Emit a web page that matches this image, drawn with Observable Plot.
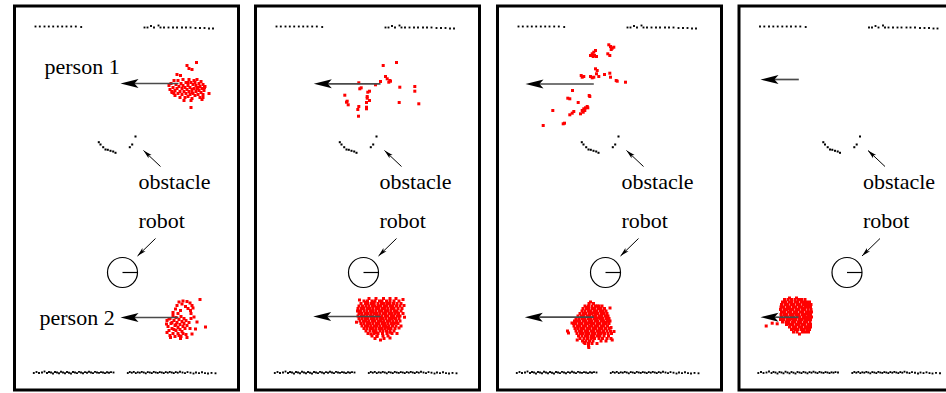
<!DOCTYPE html>
<html><head><meta charset="utf-8">
<script src="https://cdn.jsdelivr.net/npm/d3@7"></script>
<script src="https://cdn.jsdelivr.net/npm/@observablehq/plot@0.6"></script>
<style>body{margin:0;background:#fff}#chart svg{display:block}</style>
</head><body><div id="chart"></div>
<script>
// ---- layout of the four snapshots (left border of each frame) ----
const panels = [0, 1, 2, 3];
const panelLeft = [14.5, 255.5, 497.5, 739];
const panelWidth = 224;
const panelTop = 6, panelBottom = 390;

// ---- static scene (panel-local x, y) ----
const topWall = [[20.5,26],[24.8,26],[29.5,26],[33.8,26],[38.2,26],[42.8,26],[47.2,26],[51.5,26],[56.2,26],[60.8,26],[66.2,26.5],
  [129.5,27],[132.5,27],[136,25.5],[139,27],[143.5,25],[145.5,27],[149,27],[153.5,27],[158,27],[162,27],[167,27],[171,27],[175.5,27],[180.5,27.5],[185,27.5],[189.5,27.5],[194,28],[198,28]];
const bottomWall = [[18.8,372.5],[21.5,371.5],[24,372.5],[27,372],[29.5,371],[32,372.5],[34,371.5],[36,372],[38,373],[40,371.5],[42,372],[44,372.8],[46,371.2],[48,372],[50,372.8],[52,371.5],[54,372.2],[56,373],[58,371.5],[60,372],[62,372.6],[64,371.4],[66,372],[68,372.8],[70,371.6],[72,372.2],[74,371.2],[76,372],[78,372.6],[80,371.4],[82,372],[84,372.4],[86,371.6],[88,372],[90,372.6],[92,371.8],[94,372.2],[96,371.6],[98.5,372],
  [112.8,372.5],[114.8,371.5],[116.8,372.2],[118.8,371.4],[120.8,372.6],[122.8,371.8],[124.8,372.2],[126.8,371.4],[128.8,372],[130.8,372.8],[132.8,371.6],[134.8,372],[136.8,372.6],[138.8,371.4],[140.8,372],[142.8,372.4],[144.8,371.6],[146.8,372],[148.8,372.6],[150.8,371.6],[152.8,372.2],[154.8,371.4],[156.8,372],[158.8,372.6],[160.8,371.6],[162.8,372.2],[165,371.2],[167.5,372],[170,372.6],[172.5,371.6],[175.5,372.2],[178.5,373],[181,372],[184,372.6],[187,371.8],[190,372.6],[193,373],[196.5,372.4],[200.5,372.8]];
const obstacle = [[83.8,141.7],[85.5,144],[88.2,146.7],[90.5,149],[92.8,149.3],[95.5,150.3],[98.2,151],[100.5,152.3],[114.8,146.7],[117.2,144],[120.5,136]];
const robot = {x: 107.5, y: 272, heading: 0};
const robotRadius = 15;

// ---- labels ----
const sceneLabels = [{text: "obstacle", x: 123.5, y: 188.5}, {text: "robot", x: 123.5, y: 227}];
const personLabels = [{panel: 0, text: "person 1", x: 29.5, y: 73}, {panel: 0, text: "person 2", x: 24.5, y: 324.5}];
const labelArrows = [{tx: 145.5, ty: 166, x: 128.5, y: 150}, {tx: 140.5, ty: 238, x: 122.5, y: 255.5}];

// ---- estimated person motion (tail -> tip) per snapshot ----
const personArrows = [
  {panel: 0, person: 1, tx: 163.5, x: 105.5, y: 83},
  {panel: 0, person: 2, tx: 163.5, x: 105.5, y: 317},
  {panel: 1, person: 1, tx: 124.5, x: 57.8, y: 83.3},
  {panel: 1, person: 2, tx: 124.5, x: 57.2, y: 316},
  {panel: 2, person: 1, tx: 95.8, x: 27.5, y: 83.5},
  {panel: 2, person: 2, tx: 95.8, x: 26.8, y: 316.7},
  {panel: 3, person: 1, tx: 59.3, x: 21, y: 79},
  {panel: 3, person: 2, tx: 59, x: 21, y: 316.7}
];

// ---- particles ----
const p0person1 = [[154,85],[155,89],[156,83],[157,92],[158,87],[159,80],[160,90],[160,95],[161,84],[162,88],[163,93],[163,80],[164,86],[165,91],[165,97],[166,83],[167,88],[167,94],[168,79],[168,85],[169,91],[170,87],[170,97],[171,82],[171,93],[172,89],[173,85],[173,96],[174,79],[174,91],[175,87],[175,94],[176,82],[177,89],[177,98],[178,84],[178,93],[179,80],[179,88],[180,95],[181,85],[181,91],[182,79],[182,88],[183,94],[184,83],[184,90],[185,86],[185,97],[186,81],[186,92],[187,88],[188,84],[188,94],[189,90],[190,86],[187,99],[176,100],[169,100],
  [172,65],[174,68],[177,69],[181.5,62],[176,107],[194,93],[162,74],[165.5,75],[157,91],[159,93],[189.5,87],[188,97],[180,82],[183,87],[177,92],[173,82]];
const p0person2 = [[162,305],[164,301.5],[168,300.5],[172,301],[175,302.5],[177,305],[178,307.5],[175.5,310],[170.5,306],[160.5,308.5],[165.5,310],[167,303.5],[173,308],
  [152,320],[153,326],[154,330],[155,318],[156,323],[157,328],[158,333],[158,315],[159,320],[160,325],[161,330],[161,317],[162,322],[163,327],[163,333],[164,319],[165,324],[165,329],[166,316],[167,321],[167,331],[168,326],[169,318],[169,323],[170,328],[171,320],[171,334],[172,325],[160,336],[155,335],[166,336],[174,322],[175,328],[176,318],
  [179,316.5],[182,321.5],[180.5,328.5],[177,333.5],[172,337],[165.5,338],[155.5,337],[152,332],[151.5,323.5],[154,318.5],[185,299],[190.5,326.5],[158,312],[163,313],[176,313],[157,322],[159,329],[164,335],[168,333],[161,324]];
const p1person1 = [[127.2,65],[140.5,62],[129.5,76],[131.2,78.3],[133.8,80],[132.8,81.7],[134.5,80.7],[124.5,81],[119.5,84.3],[102.8,82.3],[105.2,87.3],[103.8,88.3],[113.5,90.7],[111.8,91.7],[143.8,86.7],[158.8,86],[158.8,90.7],[88.8,94.7],[91.2,100.7],[90.5,101.7],[92.2,104.3],[111.2,96],[111.2,97.7],[113.5,100],[110.5,102],[102.8,106],[101.8,109],[110.5,106.7],[110.5,108.3],[102.5,115.7],[143.2,102],[162.8,103.3]];
const p2person1 = [[110.8,44.3],[112.5,46],[114.2,47.7],[115.8,46.7],[113.2,49],[111.8,55],[109.8,53.3],[94.2,53.3],[95.8,51.7],[97.5,50],[96.5,55],[92.5,55],[98.5,56],[95.2,56],[97.5,68.3],[99.2,70],[83.2,75],[84.2,76.7],[85.8,76],[92.5,76],[94.2,77.3],[95.8,76.7],[100.8,76],[98.5,73.3],[106.5,74],[111.8,72.7],[112.5,76.7],[118.2,80],[119.2,80.7],[127.5,81.7],[74.5,90],[69.8,97.7],[71.8,98.3],[91.2,95],[91.8,96],[80.2,102],[89.2,106],[87.5,107.3],[85.8,108.3],[84.2,110],[85.2,111.7],[82.5,113.3],[75.8,111],[74.2,112.7],[71.8,114.3],[54.8,110],[65.2,123.3],[66.5,122.7],[45.2,125],[89.8,107.3],[86.8,110]];
// dense clouds, given as rows [y, [x ...]] plus scattered extra particles
const p1person2 = [
  [298,[113,120,127.5,134,140]],
  [300.5,[108,111.5,116,119,123.5,126,130.5,134,138,143]],
  [303,[105,109.5,112,115.5,118,122,125.5,128,131.5,134,137.5,141,145]],
  [305.5,[103,106.5,110,113,116.5,119,122.5,125,128.5,131,134.5,137,140.5,144]],
  [308,[102,105.5,108,111.5,114,117,120.5,123,126.5,129,132,135.5,138,142,146]],
  [310.5,[101.5,104.5,108,111,114.5,117,120,123.5,126,129.5,132,135,138.5,141,145]],
  [313,[103,106,109.5,112,115,118.5,121,124,127.5,130,133.5,136,139,142.5,147]],
  [315.5,[102,105.5,108,111,114.5,117,120.5,123,126,129.5,132,135.5,138,141.5,144]],
  [318,[103,106,109.5,112,115.5,118,121,124.5,127,130,133.5,136,139.5,143]],
  [320.5,[104,107.5,110,113,116.5,119,122.5,125,128,131.5,134,137,140.5,144]],
  [323,[105,108,111.5,114,117,120.5,123,126.5,129,132,135.5,138,142]],
  [325.5,[106,109.5,112,115,118.5,121,124,127.5,130,133,136.5,140,145]],
  [328,[108,111,114.5,117,120,123.5,126,129,132.5,135,139]],
  [330.5,[110,114,117.5,120,124,127,130.5,134,138]],
  [333,[112,118,122,126.5,131,136,141]],
  [335.5,[116,121,127,132]],
  [338,[119,128]]];
const p1person2extra = [[110,302],[118,301.8],[131,302.5],[107,307],[121,306.8],[136,307.2],[104,312],[116,311.7],[129,312.3],[141,311.8],[109,317],[124,316.8],[137,317.2],[112,322],[127,321.8],[140,322.3],[115,327],[131,326.8],[120,332],[134,331.8],[148,305],[143,327.5],[121,336],[124.5,339.5],[115,333.5],[103.5,299.5],[100.5,321.7],[134,337.5],[148.5,316.7],[147,299]];
const p2person2 = [
  [303,[91,95.5]],
  [305.5,[87,90.5,94,97.5,101,104]],
  [308,[85,88.5,91,94.5,97,100.5,103,106.5]],
  [310.5,[84,87,90.5,93,96.5,99,102.5,105,108]],
  [313,[82,85.5,88,91.5,94,97.5,100,103.5,106,109]],
  [315.5,[80,83.5,86,89.5,92,95.5,98,101.5,104,107.5,110]],
  [318,[78,81,84.5,87,90.5,93,96.5,99,102.5,105,108.5,111]],
  [320.5,[76.5,79.5,82,85.5,88,91.5,94,97.5,100,103.5,106,109.5,112]],
  [323,[75.5,78,81.5,84,87.5,90,93.5,96,99.5,102,105.5,108,111]],
  [325.5,[76,79.5,82,85.5,88,91.5,94,97.5,100,103.5,106,109.5]],
  [328,[77,80,83.5,86,89.5,92,95.5,98,101.5,104,107.5,111]],
  [330.5,[69.5,78,81.5,84,87.5,90,93.5,96,99.5,102,105.5,109,112.5]],
  [333,[79,82.5,85,88.5,91,94.5,97,100.5,103,106.5,110,113.5]],
  [335.5,[80.5,84,87.5,90,93.5,96,99.5,102,106,110.5]],
  [338,[82,86,89.5,93,96.5,101,104.5,109,113]],
  [340.5,[84.5,88,91.5,95,103,108]],
  [343,[87,90.5,94,99]],
  [345.5,[90.5]]];
const p2person2extra = [[70.5,332.5],[79.2,339.5],[90.8,347],[114.2,339.5],[112,307.5],[92.5,301.5],[99.2,305.5],[89,307],[96,312],[84,317],[101,317.2],[91,322],[80,327],[97,326.8],[88,332],[105,331.8],[94,337],[86,342],[108,322],[113,327],[116,331],[74,322.5]];
const p3person2 = [
  [299,[45,48.5,52,55.5,59,62,65.5]],
  [301.5,[43,46,49.5,52,55.5,58,61.5,64,67,70]],
  [304,[42,45.5,48,51.5,54,57.5,60,63.5,66,69,71.5]],
  [306.5,[41.5,44,47.5,50,53.5,56,59.5,62,65.5,68,71]],
  [309,[41,44.5,47,50.5,53,56.5,59,62.5,65,68.5,71.5]],
  [311.5,[42,45,48.5,51,54.5,57,60.5,63,66.5,69,72]],
  [314,[41.5,44.5,47,50.5,53,56.5,59,62.5,65,68.5,71]],
  [316.5,[42,45.5,48,51.5,54,57.5,60,63.5,66,69,72]],
  [319,[41,44,47.5,50,53.5,56,59.5,62,65.5,68,71]],
  [321.5,[43,46.5,49,52.5,55,58.5,61,64.5,67,70.5]],
  [324,[47,50.5,53,56.5,59,62.5,65,68.5,71]],
  [326.5,[50,53.5,56,59.5,62,65.5,68,71]],
  [329,[52,55.5,58,61.5,64,67.5,70]],
  [331.5,[54,57.5,63,66,69]]];
const p3person2extra = [[26.7,325.5],[32.7,322.7],[37.7,323.3],[46,303],[58,302.8],[50,308],[63,307.7],[45,313],[56,312.7],[67,313.2],[52,318],[64,317.8],[48,323],[60,322.6],[55,328],[66,327.7],[60,333.5],[50,297.5],[70,318],[57,297.5]];

// ---- build tables ----
const fromPairs = (panel, pts) => pts.map(([x, y]) => ({panel, x, y}));
const fromRows = (panel, rows) => rows.flatMap(([y, xs]) => xs.map(x => ({panel, x, y})));
const everyPanel = pts => panels.flatMap(p => fromPairs(p, pts));
const particles = [
  ...fromPairs(0, p0person1), ...fromPairs(0, p0person2),
  ...fromPairs(1, p1person1), ...fromRows(1, p1person2), ...fromPairs(1, p1person2extra),
  ...fromPairs(2, p2person1), ...fromRows(2, p2person2), ...fromPairs(2, p2person2extra),
  ...fromRows(3, p3person2), ...fromPairs(3, p3person2extra)
];
const walls = everyPanel([...topWall, ...bottomWall]);
const obstacles = everyPanel(obstacle);
const robots = panels.map(p => ({panel: p, ...robot}));
const labels = [...panels.flatMap(p => sceneLabels.map(l => ({panel: p, ...l}))), ...personLabels];
const lArrows = panels.flatMap(p => labelArrows.map(a => ({panel: p, ...a})));

const X = d => panelLeft[d.panel] + d.x;
const TX = d => panelLeft[d.panel] + d.tx;
const ang = d => Math.atan2(d.ty - d.y, d.tx - d.x) * 180 / Math.PI;

// barbed, filled arrow head; tip at the origin, pointing to -x
const barb = {draw(ctx, size) {
  const r = Math.sqrt(size / Math.PI);
  ctx.moveTo(0, 0); ctx.lineTo(2 * r, -0.5 * r); ctx.lineTo(1.55 * r, 0); ctx.lineTo(2 * r, 0.5 * r); ctx.closePath();
}};

const chart = Plot.plot({
  width: 946, height: 393, margin: 0,
  x: {domain: [0, 946], range: [0, 946], axis: null},
  y: {domain: [0, 393], range: [0, 393], axis: null},
  style: {background: "white"},
  marks: [
    Plot.rect(panels, {x1: p => panelLeft[p], x2: p => panelLeft[p] + panelWidth, y1: panelTop, y2: panelBottom, fill: "none", stroke: "black", strokeWidth: 3}),
    Plot.dot(walls, {x: X, y: "y", symbol: "square", r: 1.05, fill: "black"}),
    Plot.dot(obstacles, {x: X, y: "y", symbol: "square", r: 1.15, fill: "black"}),
    Plot.dot(particles, {x: X, y: "y", symbol: "square", r: 1.7, fill: "#ff0000"}),
    Plot.dot(robots, {x: X, y: "y", r: robotRadius, fill: "none", stroke: "black", strokeWidth: 1.2}),
    Plot.link(robots, {x1: X, y1: "y", x2: d => X(d) + robotRadius * Math.cos(d.heading), y2: d => d.y + robotRadius * Math.sin(d.heading), stroke: "black", strokeWidth: 1.2}),
    Plot.link(lArrows, {x1: TX, y1: "ty", x2: X, y2: "y", stroke: "black", strokeWidth: 1}),
    Plot.dot(lArrows, {x: X, y: "y", symbol: barb, r: 4.5, rotate: ang, fill: "black", stroke: "none"}),
    Plot.link(personArrows, {x1: TX, y1: "y", x2: d => X(d) + 12, y2: "y", stroke: "#4a4a4a", strokeWidth: 1.7}),
    Plot.dot(personArrows, {x: X, y: "y", symbol: barb, r: 9, fill: "black", stroke: "none"}),
    Plot.text(labels, {x: X, y: "y", text: "text", textAnchor: "start", lineAnchor: "bottom", fontSize: 22, fontFamily: "Liberation Serif, Times New Roman, serif", fill: "black"})
  ]
});
document.getElementById("chart").appendChild(chart);
</script>
</body></html>
